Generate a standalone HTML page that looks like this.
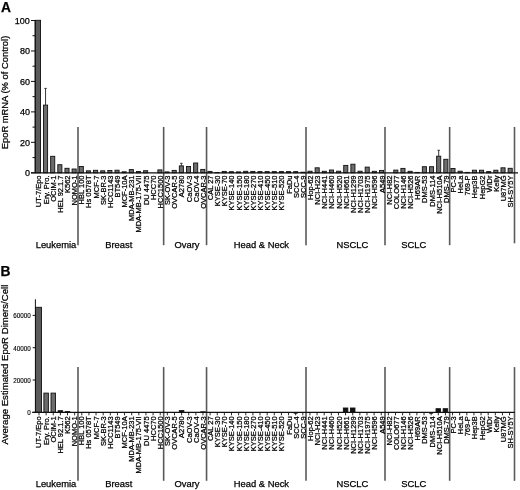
<!DOCTYPE html><html><head><meta charset="utf-8"><style>html,body{margin:0;padding:0;background:#fff;overflow:hidden;}svg{display:block;will-change:transform;}text{font-family:"Liberation Sans",sans-serif;fill:#000;stroke:#000;stroke-width:0.25px;}</style></head><body>
<svg width="520" height="490" viewBox="0 0 520 490">
<rect width="520" height="490" fill="#fff"/>
<text x="0.9" y="11.9" font-size="13.8" font-weight="bold">A</text>
<text x="0.4" y="276.2" font-size="13.8" font-weight="bold">B</text>
<text transform="translate(8.4,149.3) rotate(-90)" font-size="9.4">EpoR mRNA (% of Control)</text>
<text transform="translate(8.4,444.5) rotate(-90)" font-size="9.6">Average Estimated EpoR Dimers/Cell</text>
<line x1="78.00" y1="127.0" x2="78.00" y2="245.2" stroke="#5a5a5a" stroke-width="1.6"/>
<line x1="163.65" y1="127.0" x2="163.65" y2="245.2" stroke="#5a5a5a" stroke-width="1.6"/>
<line x1="206.55" y1="127.0" x2="206.55" y2="245.2" stroke="#5a5a5a" stroke-width="1.6"/>
<line x1="306.00" y1="127.0" x2="306.00" y2="245.2" stroke="#5a5a5a" stroke-width="1.6"/>
<line x1="385.00" y1="127.0" x2="385.00" y2="245.2" stroke="#5a5a5a" stroke-width="1.6"/>
<line x1="449.65" y1="127.0" x2="449.65" y2="245.2" stroke="#5a5a5a" stroke-width="1.6"/>
<line x1="514.50" y1="127.0" x2="514.50" y2="243.3" stroke="#5a5a5a" stroke-width="1.6"/>
<text x="56.0" y="248.1" font-size="9.4" text-anchor="middle">Leukemia</text>
<text x="118.8" y="248.1" font-size="9.4" text-anchor="middle">Breast</text>
<text x="187.0" y="248.1" font-size="9.4" text-anchor="middle">Ovary</text>
<text x="261.4" y="248.1" font-size="9.4" text-anchor="middle">Head &amp; Neck</text>
<text x="352.3" y="248.1" font-size="9.4" text-anchor="middle">NSCLC</text>
<text x="413.7" y="248.1" font-size="9.4" text-anchor="middle">SCLC</text>
<rect x="35.45" y="20.30" width="5.1" height="152.50" fill="#5a5a5a" stroke="#111" stroke-width="0.9"/>
<rect x="43.50" y="105.10" width="4.1" height="67.70" fill="#6c6c6c" stroke="#111" stroke-width="0.9"/>
<rect x="50.65" y="156.30" width="4.1" height="16.50" fill="#6c6c6c" stroke="#111" stroke-width="0.9"/>
<rect x="57.79" y="164.70" width="4.1" height="8.10" fill="#6c6c6c" stroke="#111" stroke-width="0.9"/>
<rect x="64.94" y="168.30" width="4.1" height="4.50" fill="#6c6c6c" stroke="#111" stroke-width="0.9"/>
<rect x="72.09" y="169.00" width="4.1" height="3.80" fill="#6c6c6c" stroke="#111" stroke-width="0.9"/>
<rect x="79.24" y="166.50" width="4.1" height="6.30" fill="#6c6c6c" stroke="#111" stroke-width="0.9"/>
<rect x="86.39" y="170.80" width="4.1" height="2.00" fill="#6c6c6c" stroke="#111" stroke-width="0.9"/>
<rect x="93.53" y="170.30" width="4.1" height="2.50" fill="#6c6c6c" stroke="#111" stroke-width="0.9"/>
<rect x="100.68" y="170.80" width="4.1" height="2.00" fill="#6c6c6c" stroke="#111" stroke-width="0.9"/>
<rect x="107.83" y="170.50" width="4.1" height="2.30" fill="#6c6c6c" stroke="#111" stroke-width="0.9"/>
<rect x="114.98" y="170.20" width="4.1" height="2.60" fill="#6c6c6c" stroke="#111" stroke-width="0.9"/>
<rect x="122.13" y="171.80" width="4.1" height="1.00" fill="#6c6c6c" stroke="#111" stroke-width="0.9"/>
<rect x="129.27" y="169.60" width="4.1" height="3.20" fill="#6c6c6c" stroke="#111" stroke-width="0.9"/>
<rect x="136.42" y="171.50" width="4.1" height="1.30" fill="#6c6c6c" stroke="#111" stroke-width="0.9"/>
<rect x="143.57" y="170.70" width="4.1" height="2.10" fill="#6c6c6c" stroke="#111" stroke-width="0.9"/>
<rect x="157.87" y="169.90" width="4.1" height="2.90" fill="#6c6c6c" stroke="#111" stroke-width="0.9"/>
<rect x="165.01" y="171.90" width="4.1" height="0.90" fill="#6c6c6c" stroke="#111" stroke-width="0.9"/>
<rect x="172.16" y="170.40" width="4.1" height="2.40" fill="#6c6c6c" stroke="#111" stroke-width="0.9"/>
<rect x="179.31" y="165.90" width="4.1" height="6.90" fill="#6c6c6c" stroke="#111" stroke-width="0.9"/>
<rect x="186.46" y="166.50" width="4.1" height="6.30" fill="#6c6c6c" stroke="#111" stroke-width="0.9"/>
<rect x="193.61" y="163.00" width="4.1" height="9.80" fill="#6c6c6c" stroke="#111" stroke-width="0.9"/>
<rect x="200.75" y="169.40" width="4.1" height="3.40" fill="#6c6c6c" stroke="#111" stroke-width="0.9"/>
<rect x="207.90" y="171.40" width="4.1" height="1.40" fill="#6c6c6c" stroke="#111" stroke-width="0.9"/>
<rect x="215.05" y="172.50" width="4.1" height="0.30" fill="#6c6c6c" stroke="#111" stroke-width="0.9"/>
<rect x="222.20" y="171.40" width="4.1" height="1.40" fill="#6c6c6c" stroke="#111" stroke-width="0.9"/>
<rect x="229.35" y="171.70" width="4.1" height="1.10" fill="#6c6c6c" stroke="#111" stroke-width="0.9"/>
<rect x="236.49" y="171.90" width="4.1" height="0.90" fill="#6c6c6c" stroke="#111" stroke-width="0.9"/>
<rect x="243.64" y="171.30" width="4.1" height="1.50" fill="#6c6c6c" stroke="#111" stroke-width="0.9"/>
<rect x="250.79" y="171.40" width="4.1" height="1.40" fill="#6c6c6c" stroke="#111" stroke-width="0.9"/>
<rect x="257.94" y="171.60" width="4.1" height="1.20" fill="#6c6c6c" stroke="#111" stroke-width="0.9"/>
<rect x="265.09" y="171.60" width="4.1" height="1.20" fill="#6c6c6c" stroke="#111" stroke-width="0.9"/>
<rect x="272.23" y="171.60" width="4.1" height="1.20" fill="#6c6c6c" stroke="#111" stroke-width="0.9"/>
<rect x="279.38" y="171.60" width="4.1" height="1.20" fill="#6c6c6c" stroke="#111" stroke-width="0.9"/>
<rect x="286.53" y="171.60" width="4.1" height="1.20" fill="#6c6c6c" stroke="#111" stroke-width="0.9"/>
<rect x="293.68" y="171.60" width="4.1" height="1.20" fill="#6c6c6c" stroke="#111" stroke-width="0.9"/>
<rect x="300.83" y="172.20" width="4.1" height="0.60" fill="#6c6c6c" stroke="#111" stroke-width="0.9"/>
<rect x="307.97" y="171.20" width="4.1" height="1.60" fill="#6c6c6c" stroke="#111" stroke-width="0.9"/>
<rect x="315.12" y="167.80" width="4.1" height="5.00" fill="#6c6c6c" stroke="#111" stroke-width="0.9"/>
<rect x="322.27" y="171.30" width="4.1" height="1.50" fill="#6c6c6c" stroke="#111" stroke-width="0.9"/>
<rect x="329.42" y="170.00" width="4.1" height="2.80" fill="#6c6c6c" stroke="#111" stroke-width="0.9"/>
<rect x="336.57" y="171.20" width="4.1" height="1.60" fill="#6c6c6c" stroke="#111" stroke-width="0.9"/>
<rect x="343.71" y="165.40" width="4.1" height="7.40" fill="#6c6c6c" stroke="#111" stroke-width="0.9"/>
<rect x="350.86" y="164.20" width="4.1" height="8.60" fill="#6c6c6c" stroke="#111" stroke-width="0.9"/>
<rect x="358.01" y="171.20" width="4.1" height="1.60" fill="#6c6c6c" stroke="#111" stroke-width="0.9"/>
<rect x="365.16" y="167.10" width="4.1" height="5.70" fill="#6c6c6c" stroke="#111" stroke-width="0.9"/>
<rect x="372.31" y="171.30" width="4.1" height="1.50" fill="#6c6c6c" stroke="#111" stroke-width="0.9"/>
<rect x="379.45" y="170.40" width="4.1" height="2.40" fill="#6c6c6c" stroke="#111" stroke-width="0.9"/>
<rect x="393.75" y="170.10" width="4.1" height="2.70" fill="#6c6c6c" stroke="#111" stroke-width="0.9"/>
<rect x="400.90" y="168.40" width="4.1" height="4.40" fill="#6c6c6c" stroke="#111" stroke-width="0.9"/>
<rect x="408.05" y="171.30" width="4.1" height="1.50" fill="#6c6c6c" stroke="#111" stroke-width="0.9"/>
<rect x="415.19" y="172.40" width="4.1" height="0.40" fill="#6c6c6c" stroke="#111" stroke-width="0.9"/>
<rect x="422.34" y="166.70" width="4.1" height="6.10" fill="#6c6c6c" stroke="#111" stroke-width="0.9"/>
<rect x="429.49" y="166.70" width="4.1" height="6.10" fill="#6c6c6c" stroke="#111" stroke-width="0.9"/>
<rect x="436.64" y="156.20" width="4.1" height="16.60" fill="#6c6c6c" stroke="#111" stroke-width="0.9"/>
<rect x="443.79" y="159.30" width="4.1" height="13.50" fill="#6c6c6c" stroke="#111" stroke-width="0.9"/>
<rect x="450.93" y="168.50" width="4.1" height="4.30" fill="#6c6c6c" stroke="#111" stroke-width="0.9"/>
<rect x="458.08" y="171.20" width="4.1" height="1.60" fill="#6c6c6c" stroke="#111" stroke-width="0.9"/>
<rect x="465.23" y="172.40" width="4.1" height="0.40" fill="#6c6c6c" stroke="#111" stroke-width="0.9"/>
<rect x="472.38" y="170.20" width="4.1" height="2.60" fill="#6c6c6c" stroke="#111" stroke-width="0.9"/>
<rect x="479.53" y="170.20" width="4.1" height="2.60" fill="#6c6c6c" stroke="#111" stroke-width="0.9"/>
<rect x="486.67" y="171.60" width="4.1" height="1.20" fill="#6c6c6c" stroke="#111" stroke-width="0.9"/>
<rect x="493.82" y="170.20" width="4.1" height="2.60" fill="#6c6c6c" stroke="#111" stroke-width="0.9"/>
<rect x="500.97" y="167.80" width="4.1" height="5.00" fill="#6c6c6c" stroke="#111" stroke-width="0.9"/>
<rect x="508.12" y="168.30" width="4.1" height="4.50" fill="#6c6c6c" stroke="#111" stroke-width="0.9"/>
<line x1="45.55" y1="88.4" x2="45.55" y2="105.1" stroke="#222" stroke-width="0.9"/>
<line x1="44.35" y1="88.4" x2="46.75" y2="88.4" stroke="#222" stroke-width="0.9"/>
<line x1="181.36" y1="163.3" x2="181.36" y2="165.9" stroke="#222" stroke-width="0.9"/>
<line x1="180.16" y1="163.3" x2="182.56" y2="163.3" stroke="#222" stroke-width="0.9"/>
<line x1="438.69" y1="150.3" x2="438.69" y2="156.2" stroke="#222" stroke-width="0.9"/>
<line x1="437.49" y1="150.3" x2="439.89" y2="150.3" stroke="#222" stroke-width="0.9"/>
<text transform="translate(41.40,175.5) rotate(-90)" font-size="7.5" text-anchor="end">UT-7/Epo</text>
<text transform="translate(48.55,175.5) rotate(-90)" font-size="7.5" text-anchor="end">Ery. Pro.</text>
<text transform="translate(55.70,175.5) rotate(-90)" font-size="7.5" text-anchor="end">OCIM-1</text>
<text transform="translate(62.84,175.5) rotate(-90)" font-size="7.5" text-anchor="end">HEL 92.1.7</text>
<text transform="translate(69.99,175.5) rotate(-90)" font-size="7.5" text-anchor="end">K562</text>
<text transform="translate(77.14,175.5) rotate(-90)" font-size="7.5" text-anchor="end">NOMO-1</text>
<text transform="translate(84.29,175.5) rotate(-90)" font-size="7.5" text-anchor="end">HBL 100</text>
<text transform="translate(91.44,175.5) rotate(-90)" font-size="7.5" text-anchor="end">Hs 0578T</text>
<text transform="translate(98.58,175.5) rotate(-90)" font-size="7.5" text-anchor="end">MCF-7</text>
<text transform="translate(105.73,175.5) rotate(-90)" font-size="7.5" text-anchor="end">SK-BR-3</text>
<text transform="translate(112.88,175.5) rotate(-90)" font-size="7.5" text-anchor="end">HCC1143</text>
<text transform="translate(120.03,175.5) rotate(-90)" font-size="7.5" text-anchor="end">BT549</text>
<text transform="translate(127.18,175.5) rotate(-90)" font-size="7.5" text-anchor="end">MCF-10A</text>
<text transform="translate(134.32,175.5) rotate(-90)" font-size="7.5" text-anchor="end">MDA-MB-231</text>
<text transform="translate(141.47,175.5) rotate(-90)" font-size="7.5" text-anchor="end">MDA-MB-175-VII</text>
<text transform="translate(148.62,175.5) rotate(-90)" font-size="7.5" text-anchor="end">DU 4475</text>
<text transform="translate(155.77,175.5) rotate(-90)" font-size="7.5" text-anchor="end">HCC70</text>
<text transform="translate(162.92,175.5) rotate(-90)" font-size="7.5" text-anchor="end">HCC1500</text>
<text transform="translate(170.06,175.5) rotate(-90)" font-size="7.5" text-anchor="end">SK-OV-3</text>
<text transform="translate(177.21,175.5) rotate(-90)" font-size="7.5" text-anchor="end">OVCAR-5</text>
<text transform="translate(184.36,175.5) rotate(-90)" font-size="7.5" text-anchor="end">A2780</text>
<text transform="translate(191.51,175.5) rotate(-90)" font-size="7.5" text-anchor="end">CaOV-3</text>
<text transform="translate(198.66,175.5) rotate(-90)" font-size="7.5" text-anchor="end">CaOV-4</text>
<text transform="translate(205.80,175.5) rotate(-90)" font-size="7.5" text-anchor="end">OVCAR-3</text>
<text transform="translate(212.95,175.5) rotate(-90)" font-size="7.5" text-anchor="end">CAL 27</text>
<text transform="translate(220.10,175.5) rotate(-90)" font-size="7.5" text-anchor="end">KYSE-30</text>
<text transform="translate(227.25,175.5) rotate(-90)" font-size="7.5" text-anchor="end">KYSE-70</text>
<text transform="translate(234.40,175.5) rotate(-90)" font-size="7.5" text-anchor="end">KYSE-140</text>
<text transform="translate(241.54,175.5) rotate(-90)" font-size="7.5" text-anchor="end">KYSE-150</text>
<text transform="translate(248.69,175.5) rotate(-90)" font-size="7.5" text-anchor="end">KYSE-180</text>
<text transform="translate(255.84,175.5) rotate(-90)" font-size="7.5" text-anchor="end">KYSE-270</text>
<text transform="translate(262.99,175.5) rotate(-90)" font-size="7.5" text-anchor="end">KYSE-410</text>
<text transform="translate(270.14,175.5) rotate(-90)" font-size="7.5" text-anchor="end">KYSE-450</text>
<text transform="translate(277.28,175.5) rotate(-90)" font-size="7.5" text-anchor="end">KYSE-510</text>
<text transform="translate(284.43,175.5) rotate(-90)" font-size="7.5" text-anchor="end">KYSE-520</text>
<text transform="translate(291.58,175.5) rotate(-90)" font-size="7.5" text-anchor="end">FaDu</text>
<text transform="translate(298.73,175.5) rotate(-90)" font-size="7.5" text-anchor="end">SCC-4</text>
<text transform="translate(305.88,175.5) rotate(-90)" font-size="7.5" text-anchor="end">SCC-9</text>
<text transform="translate(313.02,175.5) rotate(-90)" font-size="7.5" text-anchor="end">Hop-62</text>
<text transform="translate(320.17,175.5) rotate(-90)" font-size="7.5" text-anchor="end">NCI-H23</text>
<text transform="translate(327.32,175.5) rotate(-90)" font-size="7.5" text-anchor="end">NCI-H441</text>
<text transform="translate(334.47,175.5) rotate(-90)" font-size="7.5" text-anchor="end">NCI-H460</text>
<text transform="translate(341.62,175.5) rotate(-90)" font-size="7.5" text-anchor="end">NCI-H520</text>
<text transform="translate(348.76,175.5) rotate(-90)" font-size="7.5" text-anchor="end">NCI-H661</text>
<text transform="translate(355.91,175.5) rotate(-90)" font-size="7.5" text-anchor="end">NCI-H1299</text>
<text transform="translate(363.06,175.5) rotate(-90)" font-size="7.5" text-anchor="end">NCI-H1703</text>
<text transform="translate(370.21,175.5) rotate(-90)" font-size="7.5" text-anchor="end">NCI-H1975</text>
<text transform="translate(377.36,175.5) rotate(-90)" font-size="7.5" text-anchor="end">NCI-H596</text>
<text transform="translate(384.50,175.5) rotate(-90)" font-size="7.5" text-anchor="end">A549</text>
<text transform="translate(391.65,175.5) rotate(-90)" font-size="7.5" text-anchor="end">NCI-H82</text>
<text transform="translate(398.80,175.5) rotate(-90)" font-size="7.5" text-anchor="end">COLO677</text>
<text transform="translate(405.95,175.5) rotate(-90)" font-size="7.5" text-anchor="end">NCI-H146</text>
<text transform="translate(413.10,175.5) rotate(-90)" font-size="7.5" text-anchor="end">NCI-H526</text>
<text transform="translate(420.24,175.5) rotate(-90)" font-size="7.5" text-anchor="end">H69AR</text>
<text transform="translate(427.39,175.5) rotate(-90)" font-size="7.5" text-anchor="end">DMS-53</text>
<text transform="translate(434.54,175.5) rotate(-90)" font-size="7.5" text-anchor="end">DMS-114</text>
<text transform="translate(441.69,175.5) rotate(-90)" font-size="7.5" text-anchor="end">NCI-H510A</text>
<text transform="translate(448.84,175.5) rotate(-90)" font-size="7.5" text-anchor="end">DMS-79</text>
<text transform="translate(455.98,175.5) rotate(-90)" font-size="7.5" text-anchor="end">PC-3</text>
<text transform="translate(463.13,175.5) rotate(-90)" font-size="7.5" text-anchor="end">HeLa</text>
<text transform="translate(470.28,175.5) rotate(-90)" font-size="7.5" text-anchor="end">769-P</text>
<text transform="translate(477.43,175.5) rotate(-90)" font-size="7.5" text-anchor="end">Hep3B</text>
<text transform="translate(484.58,175.5) rotate(-90)" font-size="7.5" text-anchor="end">HepG2</text>
<text transform="translate(491.72,175.5) rotate(-90)" font-size="7.5" text-anchor="end">WiDr</text>
<text transform="translate(498.87,175.5) rotate(-90)" font-size="7.5" text-anchor="end">Kelly</text>
<text transform="translate(506.02,175.5) rotate(-90)" font-size="7.5" text-anchor="end">U87MG</text>
<text transform="translate(513.17,175.5) rotate(-90)" font-size="7.5" text-anchor="end">SH-SY5Y</text>
<line x1="35" y1="20.3" x2="35" y2="172.8" stroke="#111" stroke-width="1"/>
<line x1="31" y1="172.8" x2="518" y2="172.8" stroke="#111" stroke-width="1.3"/>
<line x1="31" y1="172.80" x2="35" y2="172.80" stroke="#111" stroke-width="1"/>
<text x="29.9" y="176.10" font-size="9" text-anchor="end">0</text>
<line x1="32.5" y1="157.57" x2="35" y2="157.57" stroke="#111" stroke-width="1"/>
<line x1="31" y1="142.34" x2="35" y2="142.34" stroke="#111" stroke-width="1"/>
<text x="29.9" y="145.64" font-size="9" text-anchor="end">20</text>
<line x1="32.5" y1="127.11" x2="35" y2="127.11" stroke="#111" stroke-width="1"/>
<line x1="31" y1="111.88" x2="35" y2="111.88" stroke="#111" stroke-width="1"/>
<text x="29.9" y="115.18" font-size="9" text-anchor="end">40</text>
<line x1="32.5" y1="96.65" x2="35" y2="96.65" stroke="#111" stroke-width="1"/>
<line x1="31" y1="81.42" x2="35" y2="81.42" stroke="#111" stroke-width="1"/>
<text x="29.9" y="84.72" font-size="9" text-anchor="end">60</text>
<line x1="32.5" y1="66.19" x2="35" y2="66.19" stroke="#111" stroke-width="1"/>
<line x1="31" y1="50.96" x2="35" y2="50.96" stroke="#111" stroke-width="1"/>
<text x="29.9" y="54.26" font-size="9" text-anchor="end">80</text>
<line x1="32.5" y1="35.73" x2="35" y2="35.73" stroke="#111" stroke-width="1"/>
<line x1="31" y1="20.50" x2="35" y2="20.50" stroke="#111" stroke-width="1"/>
<text x="29.9" y="23.80" font-size="9" text-anchor="end">100</text>
<line x1="78.00" y1="367.1" x2="78.00" y2="480.8" stroke="#5a5a5a" stroke-width="1.6"/>
<line x1="163.65" y1="367.1" x2="163.65" y2="480.8" stroke="#5a5a5a" stroke-width="1.6"/>
<line x1="206.55" y1="367.1" x2="206.55" y2="480.8" stroke="#5a5a5a" stroke-width="1.6"/>
<line x1="306.00" y1="367.1" x2="306.00" y2="480.8" stroke="#5a5a5a" stroke-width="1.6"/>
<line x1="385.00" y1="367.1" x2="385.00" y2="480.8" stroke="#5a5a5a" stroke-width="1.6"/>
<line x1="449.65" y1="367.1" x2="449.65" y2="480.8" stroke="#5a5a5a" stroke-width="1.6"/>
<line x1="514.50" y1="367.1" x2="514.50" y2="480.8" stroke="#5a5a5a" stroke-width="1.6"/>
<text x="56.0" y="487.0" font-size="9.4" text-anchor="middle">Leukemia</text>
<text x="118.8" y="487.0" font-size="9.4" text-anchor="middle">Breast</text>
<text x="187.0" y="487.0" font-size="9.4" text-anchor="middle">Ovary</text>
<text x="261.4" y="487.0" font-size="9.4" text-anchor="middle">Head &amp; Neck</text>
<text x="352.3" y="487.0" font-size="9.4" text-anchor="middle">NSCLC</text>
<text x="413.7" y="487.0" font-size="9.4" text-anchor="middle">SCLC</text>
<rect x="35.45" y="307.30" width="6.0" height="105.00" fill="#5a5a5a" stroke="#111" stroke-width="0.9"/>
<rect x="43.88" y="393.10" width="4.5" height="19.20" fill="#6c6c6c" stroke="#111" stroke-width="0.9"/>
<rect x="51.01" y="393.10" width="4.5" height="19.20" fill="#6c6c6c" stroke="#111" stroke-width="0.9"/>
<rect x="58.14" y="410.70" width="4.5" height="1.60" fill="#111" stroke="#111" stroke-width="0.9"/>
<rect x="65.27" y="411.60" width="4.5" height="0.70" fill="#111" stroke="#111" stroke-width="0.9"/>
<rect x="179.35" y="410.60" width="4.5" height="1.70" fill="#111" stroke="#111" stroke-width="0.9"/>
<rect x="200.74" y="411.80" width="4.5" height="0.50" fill="#111" stroke="#111" stroke-width="0.9"/>
<rect x="343.34" y="408.00" width="4.5" height="4.30" fill="#111" stroke="#111" stroke-width="0.9"/>
<rect x="350.47" y="408.00" width="4.5" height="4.30" fill="#111" stroke="#111" stroke-width="0.9"/>
<rect x="436.03" y="408.70" width="4.5" height="3.60" fill="#111" stroke="#111" stroke-width="0.9"/>
<rect x="443.16" y="408.70" width="4.5" height="3.60" fill="#111" stroke="#111" stroke-width="0.9"/>
<text transform="translate(41.40,416.3) rotate(-90)" font-size="7.5" text-anchor="end">UT-7/Epo</text>
<text transform="translate(48.55,416.3) rotate(-90)" font-size="7.5" text-anchor="end">Ery. Pro.</text>
<text transform="translate(55.70,416.3) rotate(-90)" font-size="7.5" text-anchor="end">OCIM-1</text>
<text transform="translate(62.84,416.3) rotate(-90)" font-size="7.5" text-anchor="end">HEL 92.1.7</text>
<text transform="translate(69.99,416.3) rotate(-90)" font-size="7.5" text-anchor="end">K562</text>
<text transform="translate(77.14,416.3) rotate(-90)" font-size="7.5" text-anchor="end">NOMO-1</text>
<text transform="translate(84.29,416.3) rotate(-90)" font-size="7.5" text-anchor="end">HBL 100</text>
<text transform="translate(91.44,416.3) rotate(-90)" font-size="7.5" text-anchor="end">Hs 0578T</text>
<text transform="translate(98.58,416.3) rotate(-90)" font-size="7.5" text-anchor="end">MCF-7</text>
<text transform="translate(105.73,416.3) rotate(-90)" font-size="7.5" text-anchor="end">SK-BR-3</text>
<text transform="translate(112.88,416.3) rotate(-90)" font-size="7.5" text-anchor="end">HCC1143</text>
<text transform="translate(120.03,416.3) rotate(-90)" font-size="7.5" text-anchor="end">BT549</text>
<text transform="translate(127.18,416.3) rotate(-90)" font-size="7.5" text-anchor="end">MCF-10A</text>
<text transform="translate(134.32,416.3) rotate(-90)" font-size="7.5" text-anchor="end">MDA-MB-231</text>
<text transform="translate(141.47,416.3) rotate(-90)" font-size="7.5" text-anchor="end">MDA-MB-175-VII</text>
<text transform="translate(148.62,416.3) rotate(-90)" font-size="7.5" text-anchor="end">DU 4475</text>
<text transform="translate(155.77,416.3) rotate(-90)" font-size="7.5" text-anchor="end">HCC70</text>
<text transform="translate(162.92,416.3) rotate(-90)" font-size="7.5" text-anchor="end">HCC1500</text>
<text transform="translate(170.06,416.3) rotate(-90)" font-size="7.5" text-anchor="end">SK-OV-3</text>
<text transform="translate(177.21,416.3) rotate(-90)" font-size="7.5" text-anchor="end">OVCAR-5</text>
<text transform="translate(184.36,416.3) rotate(-90)" font-size="7.5" text-anchor="end">A2780</text>
<text transform="translate(191.51,416.3) rotate(-90)" font-size="7.5" text-anchor="end">CaOV-3</text>
<text transform="translate(198.66,416.3) rotate(-90)" font-size="7.5" text-anchor="end">CaOV-4</text>
<text transform="translate(205.80,416.3) rotate(-90)" font-size="7.5" text-anchor="end">OVCAR-3</text>
<text transform="translate(212.95,416.3) rotate(-90)" font-size="7.5" text-anchor="end">CAL 27</text>
<text transform="translate(220.10,416.3) rotate(-90)" font-size="7.5" text-anchor="end">KYSE-30</text>
<text transform="translate(227.25,416.3) rotate(-90)" font-size="7.5" text-anchor="end">KYSE-70</text>
<text transform="translate(234.40,416.3) rotate(-90)" font-size="7.5" text-anchor="end">KYSE-140</text>
<text transform="translate(241.54,416.3) rotate(-90)" font-size="7.5" text-anchor="end">KYSE-150</text>
<text transform="translate(248.69,416.3) rotate(-90)" font-size="7.5" text-anchor="end">KYSE-180</text>
<text transform="translate(255.84,416.3) rotate(-90)" font-size="7.5" text-anchor="end">KYSE-270</text>
<text transform="translate(262.99,416.3) rotate(-90)" font-size="7.5" text-anchor="end">KYSE-410</text>
<text transform="translate(270.14,416.3) rotate(-90)" font-size="7.5" text-anchor="end">KYSE-450</text>
<text transform="translate(277.28,416.3) rotate(-90)" font-size="7.5" text-anchor="end">KYSE-510</text>
<text transform="translate(284.43,416.3) rotate(-90)" font-size="7.5" text-anchor="end">KYSE-520</text>
<text transform="translate(291.58,416.3) rotate(-90)" font-size="7.5" text-anchor="end">FaDu</text>
<text transform="translate(298.73,416.3) rotate(-90)" font-size="7.5" text-anchor="end">SCC-4</text>
<text transform="translate(305.88,416.3) rotate(-90)" font-size="7.5" text-anchor="end">SCC-9</text>
<text transform="translate(313.02,416.3) rotate(-90)" font-size="7.5" text-anchor="end">Hop-62</text>
<text transform="translate(320.17,416.3) rotate(-90)" font-size="7.5" text-anchor="end">NCI-H23</text>
<text transform="translate(327.32,416.3) rotate(-90)" font-size="7.5" text-anchor="end">NCI-H441</text>
<text transform="translate(334.47,416.3) rotate(-90)" font-size="7.5" text-anchor="end">NCI-H460</text>
<text transform="translate(341.62,416.3) rotate(-90)" font-size="7.5" text-anchor="end">NCI-H520</text>
<text transform="translate(348.76,416.3) rotate(-90)" font-size="7.5" text-anchor="end">NCI-H661</text>
<text transform="translate(355.91,416.3) rotate(-90)" font-size="7.5" text-anchor="end">NCI-H1299</text>
<text transform="translate(363.06,416.3) rotate(-90)" font-size="7.5" text-anchor="end">NCI-H1703</text>
<text transform="translate(370.21,416.3) rotate(-90)" font-size="7.5" text-anchor="end">NCI-H1975</text>
<text transform="translate(377.36,416.3) rotate(-90)" font-size="7.5" text-anchor="end">NCI-H596</text>
<text transform="translate(384.50,416.3) rotate(-90)" font-size="7.5" text-anchor="end">A549</text>
<text transform="translate(391.65,416.3) rotate(-90)" font-size="7.5" text-anchor="end">NCI-H82</text>
<text transform="translate(398.80,416.3) rotate(-90)" font-size="7.5" text-anchor="end">COLO677</text>
<text transform="translate(405.95,416.3) rotate(-90)" font-size="7.5" text-anchor="end">NCI-H146</text>
<text transform="translate(413.10,416.3) rotate(-90)" font-size="7.5" text-anchor="end">NCI-H526</text>
<text transform="translate(420.24,416.3) rotate(-90)" font-size="7.5" text-anchor="end">H69AR</text>
<text transform="translate(427.39,416.3) rotate(-90)" font-size="7.5" text-anchor="end">DMS-53</text>
<text transform="translate(434.54,416.3) rotate(-90)" font-size="7.5" text-anchor="end">DMS-114</text>
<text transform="translate(441.69,416.3) rotate(-90)" font-size="7.5" text-anchor="end">NCI-H510A</text>
<text transform="translate(448.84,416.3) rotate(-90)" font-size="7.5" text-anchor="end">DMS-79</text>
<text transform="translate(455.98,416.3) rotate(-90)" font-size="7.5" text-anchor="end">PC-3</text>
<text transform="translate(463.13,416.3) rotate(-90)" font-size="7.5" text-anchor="end">HeLa</text>
<text transform="translate(470.28,416.3) rotate(-90)" font-size="7.5" text-anchor="end">769-P</text>
<text transform="translate(477.43,416.3) rotate(-90)" font-size="7.5" text-anchor="end">Hep3B</text>
<text transform="translate(484.58,416.3) rotate(-90)" font-size="7.5" text-anchor="end">HepG2</text>
<text transform="translate(491.72,416.3) rotate(-90)" font-size="7.5" text-anchor="end">WiDr</text>
<text transform="translate(498.87,416.3) rotate(-90)" font-size="7.5" text-anchor="end">Kelly</text>
<text transform="translate(506.02,416.3) rotate(-90)" font-size="7.5" text-anchor="end">U87MG</text>
<text transform="translate(513.17,416.3) rotate(-90)" font-size="7.5" text-anchor="end">SH-SY5Y</text>
<line x1="35.4" y1="299.3" x2="35.4" y2="412.3" stroke="#111" stroke-width="1"/>
<line x1="32.2" y1="412.3" x2="514.7" y2="412.3" stroke="#111" stroke-width="1.2"/>
<line x1="32.7" y1="412.30" x2="35.4" y2="412.30" stroke="#111" stroke-width="1"/>
<text x="30.8" y="415.30" font-size="6.3" text-anchor="end" style="stroke-width:0.12px">0</text>
<line x1="32.7" y1="380.00" x2="35.4" y2="380.00" stroke="#111" stroke-width="1"/>
<text x="30.8" y="383.00" font-size="6.3" text-anchor="end" style="stroke-width:0.12px">20000</text>
<line x1="32.7" y1="347.70" x2="35.4" y2="347.70" stroke="#111" stroke-width="1"/>
<text x="30.8" y="350.70" font-size="6.3" text-anchor="end" style="stroke-width:0.12px">40000</text>
<line x1="32.7" y1="315.40" x2="35.4" y2="315.40" stroke="#111" stroke-width="1"/>
<text x="30.8" y="318.40" font-size="6.3" text-anchor="end" style="stroke-width:0.12px">60000</text>
<line x1="39.00" y1="412.3" x2="39.00" y2="415.3" stroke="#111" stroke-width="0.9"/>
<line x1="46.13" y1="412.3" x2="46.13" y2="415.3" stroke="#111" stroke-width="0.9"/>
<line x1="53.26" y1="412.3" x2="53.26" y2="415.3" stroke="#111" stroke-width="0.9"/>
<line x1="60.39" y1="412.3" x2="60.39" y2="415.3" stroke="#111" stroke-width="0.9"/>
<line x1="67.52" y1="412.3" x2="67.52" y2="415.3" stroke="#111" stroke-width="0.9"/>
<line x1="74.65" y1="412.3" x2="74.65" y2="415.3" stroke="#111" stroke-width="0.9"/>
<line x1="81.78" y1="412.3" x2="81.78" y2="415.3" stroke="#111" stroke-width="0.9"/>
<line x1="88.91" y1="412.3" x2="88.91" y2="415.3" stroke="#111" stroke-width="0.9"/>
<line x1="96.04" y1="412.3" x2="96.04" y2="415.3" stroke="#111" stroke-width="0.9"/>
<line x1="103.17" y1="412.3" x2="103.17" y2="415.3" stroke="#111" stroke-width="0.9"/>
<line x1="110.30" y1="412.3" x2="110.30" y2="415.3" stroke="#111" stroke-width="0.9"/>
<line x1="117.43" y1="412.3" x2="117.43" y2="415.3" stroke="#111" stroke-width="0.9"/>
<line x1="124.56" y1="412.3" x2="124.56" y2="415.3" stroke="#111" stroke-width="0.9"/>
<line x1="131.69" y1="412.3" x2="131.69" y2="415.3" stroke="#111" stroke-width="0.9"/>
<line x1="138.82" y1="412.3" x2="138.82" y2="415.3" stroke="#111" stroke-width="0.9"/>
<line x1="145.95" y1="412.3" x2="145.95" y2="415.3" stroke="#111" stroke-width="0.9"/>
<line x1="153.08" y1="412.3" x2="153.08" y2="415.3" stroke="#111" stroke-width="0.9"/>
<line x1="160.21" y1="412.3" x2="160.21" y2="415.3" stroke="#111" stroke-width="0.9"/>
<line x1="167.34" y1="412.3" x2="167.34" y2="415.3" stroke="#111" stroke-width="0.9"/>
<line x1="174.47" y1="412.3" x2="174.47" y2="415.3" stroke="#111" stroke-width="0.9"/>
<line x1="181.60" y1="412.3" x2="181.60" y2="415.3" stroke="#111" stroke-width="0.9"/>
<line x1="188.73" y1="412.3" x2="188.73" y2="415.3" stroke="#111" stroke-width="0.9"/>
<line x1="195.86" y1="412.3" x2="195.86" y2="415.3" stroke="#111" stroke-width="0.9"/>
<line x1="202.99" y1="412.3" x2="202.99" y2="415.3" stroke="#111" stroke-width="0.9"/>
<line x1="210.12" y1="412.3" x2="210.12" y2="415.3" stroke="#111" stroke-width="0.9"/>
<line x1="217.25" y1="412.3" x2="217.25" y2="415.3" stroke="#111" stroke-width="0.9"/>
<line x1="224.38" y1="412.3" x2="224.38" y2="415.3" stroke="#111" stroke-width="0.9"/>
<line x1="231.51" y1="412.3" x2="231.51" y2="415.3" stroke="#111" stroke-width="0.9"/>
<line x1="238.64" y1="412.3" x2="238.64" y2="415.3" stroke="#111" stroke-width="0.9"/>
<line x1="245.77" y1="412.3" x2="245.77" y2="415.3" stroke="#111" stroke-width="0.9"/>
<line x1="252.90" y1="412.3" x2="252.90" y2="415.3" stroke="#111" stroke-width="0.9"/>
<line x1="260.03" y1="412.3" x2="260.03" y2="415.3" stroke="#111" stroke-width="0.9"/>
<line x1="267.16" y1="412.3" x2="267.16" y2="415.3" stroke="#111" stroke-width="0.9"/>
<line x1="274.29" y1="412.3" x2="274.29" y2="415.3" stroke="#111" stroke-width="0.9"/>
<line x1="281.42" y1="412.3" x2="281.42" y2="415.3" stroke="#111" stroke-width="0.9"/>
<line x1="288.55" y1="412.3" x2="288.55" y2="415.3" stroke="#111" stroke-width="0.9"/>
<line x1="295.68" y1="412.3" x2="295.68" y2="415.3" stroke="#111" stroke-width="0.9"/>
<line x1="302.81" y1="412.3" x2="302.81" y2="415.3" stroke="#111" stroke-width="0.9"/>
<line x1="309.94" y1="412.3" x2="309.94" y2="415.3" stroke="#111" stroke-width="0.9"/>
<line x1="317.07" y1="412.3" x2="317.07" y2="415.3" stroke="#111" stroke-width="0.9"/>
<line x1="324.20" y1="412.3" x2="324.20" y2="415.3" stroke="#111" stroke-width="0.9"/>
<line x1="331.33" y1="412.3" x2="331.33" y2="415.3" stroke="#111" stroke-width="0.9"/>
<line x1="338.46" y1="412.3" x2="338.46" y2="415.3" stroke="#111" stroke-width="0.9"/>
<line x1="345.59" y1="412.3" x2="345.59" y2="415.3" stroke="#111" stroke-width="0.9"/>
<line x1="352.72" y1="412.3" x2="352.72" y2="415.3" stroke="#111" stroke-width="0.9"/>
<line x1="359.85" y1="412.3" x2="359.85" y2="415.3" stroke="#111" stroke-width="0.9"/>
<line x1="366.98" y1="412.3" x2="366.98" y2="415.3" stroke="#111" stroke-width="0.9"/>
<line x1="374.11" y1="412.3" x2="374.11" y2="415.3" stroke="#111" stroke-width="0.9"/>
<line x1="381.24" y1="412.3" x2="381.24" y2="415.3" stroke="#111" stroke-width="0.9"/>
<line x1="388.37" y1="412.3" x2="388.37" y2="415.3" stroke="#111" stroke-width="0.9"/>
<line x1="395.50" y1="412.3" x2="395.50" y2="415.3" stroke="#111" stroke-width="0.9"/>
<line x1="402.63" y1="412.3" x2="402.63" y2="415.3" stroke="#111" stroke-width="0.9"/>
<line x1="409.76" y1="412.3" x2="409.76" y2="415.3" stroke="#111" stroke-width="0.9"/>
<line x1="416.89" y1="412.3" x2="416.89" y2="415.3" stroke="#111" stroke-width="0.9"/>
<line x1="424.02" y1="412.3" x2="424.02" y2="415.3" stroke="#111" stroke-width="0.9"/>
<line x1="431.15" y1="412.3" x2="431.15" y2="415.3" stroke="#111" stroke-width="0.9"/>
<line x1="438.28" y1="412.3" x2="438.28" y2="415.3" stroke="#111" stroke-width="0.9"/>
<line x1="445.41" y1="412.3" x2="445.41" y2="415.3" stroke="#111" stroke-width="0.9"/>
<line x1="452.54" y1="412.3" x2="452.54" y2="415.3" stroke="#111" stroke-width="0.9"/>
<line x1="459.67" y1="412.3" x2="459.67" y2="415.3" stroke="#111" stroke-width="0.9"/>
<line x1="466.80" y1="412.3" x2="466.80" y2="415.3" stroke="#111" stroke-width="0.9"/>
<line x1="473.93" y1="412.3" x2="473.93" y2="415.3" stroke="#111" stroke-width="0.9"/>
<line x1="481.06" y1="412.3" x2="481.06" y2="415.3" stroke="#111" stroke-width="0.9"/>
<line x1="488.19" y1="412.3" x2="488.19" y2="415.3" stroke="#111" stroke-width="0.9"/>
<line x1="495.32" y1="412.3" x2="495.32" y2="415.3" stroke="#111" stroke-width="0.9"/>
<line x1="502.45" y1="412.3" x2="502.45" y2="415.3" stroke="#111" stroke-width="0.9"/>
<line x1="509.58" y1="412.3" x2="509.58" y2="415.3" stroke="#111" stroke-width="0.9"/>
<rect x="293.68" y="412.3" width="4" height="1.4" fill="#111"/>
<rect x="429.15" y="412.3" width="4" height="1.4" fill="#111"/>
</svg></body></html>
